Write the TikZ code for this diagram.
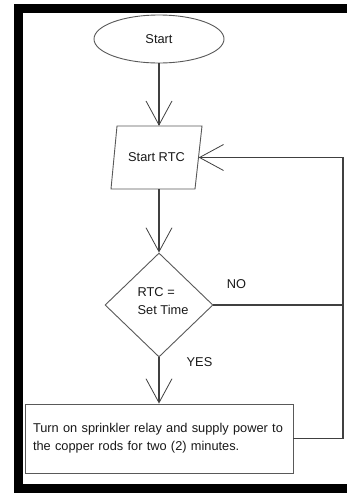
\documentclass[tikz,border=0pt]{standalone}
\usepackage{fontspec}
\setmainfont{Liberation Sans}
\usetikzlibrary{shapes.geometric,arrows.meta}
\begin{document}
\begin{tikzpicture}[x=1pt,y=-1pt,
  every node/.style={font=\fontsize{12.8}{18}\selectfont, text=black!90},
  shapeline/.style={draw=black!65, line width=0.9pt},
  conn/.style={draw=black!75, line width=1.1pt},
  arr/.style={conn, -{Straight Barb[length=24pt,width=26pt,line width=0.8pt]}},
]
\useasboundingbox (0,0) rectangle (347,493);
\fill[white] (0,0) rectangle (347,493);
\draw[line width=9pt, line join=miter] (347,8.5) -- (18.5,8.5) -- (18.5,488) -- (347,488);

\node[ellipse, shapeline, minimum width=130pt, minimum height=48pt, inner sep=0pt] (start) at (159,39) {Start};
\draw[shapeline] (117,126) -- (202,126) -- (195,189) -- (111,189) -- cycle;
\node[minimum width=84pt, minimum height=63pt, inner sep=0pt] (rtc) at (156.5,157.5) {Start RTC};
\node[diamond, shapeline, minimum width=108pt, minimum height=104pt, inner sep=0pt] (dec) at (159,305) {};
\node[align=left] (dectext) at (163,301) {RTC =\\Set Time};
\node[rectangle, shapeline, text width=252pt, inner sep=8pt, minimum height=69pt, align=left] (act) at (159,438.5) {Turn on sprinkler relay and supply power to\\the copper rods for two (2) minutes.};

\coordinate (cb) at (343,438.5);
\coordinate (ct) at (343,157.5);
\coordinate (cn) at (343,305);

\draw[arr] (start.south) -- (start.south |- rtc.north);
\draw[arr] (start.south |- rtc.south) -- (dec.north);
\draw[arr] (dec.south) -- (act.north);
\draw[conn] (dec.east) -- (cn);
\draw[arr] (act.east) -- (cb) -- (ct) -- (rtc.east);

\node (no) at (236.5,284) {NO};
\node (yes) at (199.5,362) {YES};
\end{tikzpicture}
\end{document}
